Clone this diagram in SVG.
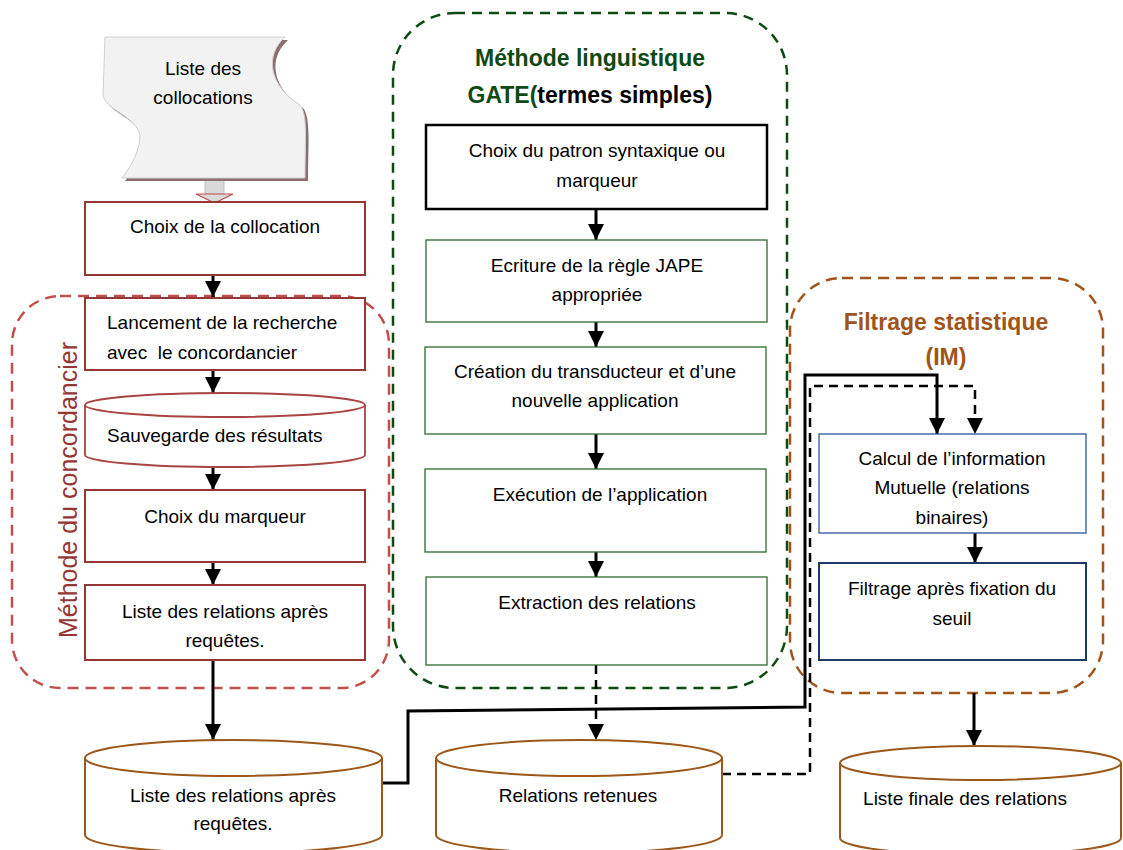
<svg xmlns="http://www.w3.org/2000/svg" width="1123" height="850" viewBox="0 0 1123 850">
<style>
text{font-family:"Liberation Sans",Arial,sans-serif;font-size:19px;fill:#000}
.c{text-anchor:middle}
.t{font-weight:bold;font-size:23px}
.red{fill:#fff;stroke:#953735;stroke-width:2}
.grn{fill:#fff;stroke:#2e6b2e;stroke-width:1.3}
.blk{fill:#fff;stroke:#000;stroke-width:2.5}
.cyl{fill:#fff;stroke:#9c5719;stroke-width:2}
.cylr{fill:#fff;stroke:#a84442;stroke-width:1.8}
.ln{fill:none;stroke:#000;stroke-width:3}
.dl{fill:none;stroke:#000;stroke-width:2.5;stroke-dasharray:9,6}
</style>
<defs>
<marker id="ah" markerUnits="userSpaceOnUse" markerWidth="16" markerHeight="16" viewBox="0 0 16 16" refX="16" refY="8" orient="auto">
<path d="M0,0 L16,8 L0,16 Z" fill="#000"/>
</marker>
</defs>

<g id="group-concordancier">
<rect x="12" y="296" width="377" height="392" rx="48" fill="none" stroke="#c0504d" stroke-width="2.5" stroke-dasharray="11,7"/>
<text class="c" transform="translate(77,490) rotate(-90)" style="font-size:25px;fill:#943634">Méthode du concordancier</text>
</g>
<g id="group-gate">
<rect x="393" y="13" width="394" height="675" rx="62" fill="none" stroke="#0f4a12" stroke-width="2.5" stroke-dasharray="10,7"/>
<text class="c t" x="590" y="66" style="fill:#0f4a12">Méthode linguistique</text>
<text class="c t" x="590" y="103"><tspan fill="#0f4a12">GATE(</tspan><tspan fill="#000">termes simples)</tspan></text>
</g>
<g id="group-filtrage">
<rect x="790" y="278" width="313" height="415" rx="52" fill="none" stroke="#a0541b" stroke-width="2.5" stroke-dasharray="11,7"/>
<text class="c t" x="946" y="330" style="fill:#a0541b">Filtrage statistique</text>
<text class="c t" x="946" y="365" style="fill:#a0541b">(IM)</text>
</g>

<g id="connectors">
<g id="block-arrow">
<rect x="205" y="178" width="19" height="16" fill="#d9d9d9" stroke="#bfbfbf" stroke-width="1"/>
<path d="M196,194 L233,194 L214.5,203 Z" fill="#d9d9d9" stroke="#c0504d" stroke-width="1.2"/>
</g>
<path class="ln" d="M213,275 V297" marker-end="url(#ah)"/>
<path class="ln" d="M213,370 V393" marker-end="url(#ah)"/>
<path class="ln" d="M213,467 V490" marker-end="url(#ah)"/>
<path class="ln" d="M213,562 V585" marker-end="url(#ah)"/>
<path class="ln" d="M213,660 V740" marker-end="url(#ah)"/>
<path class="ln" d="M596,209 V240" marker-end="url(#ah)"/>
<path class="ln" d="M596,322 V347" marker-end="url(#ah)"/>
<path class="ln" d="M596,434 V469" marker-end="url(#ah)"/>
<path class="ln" d="M596,552 V577" marker-end="url(#ah)"/>
<path class="dl" d="M596,665 V740" marker-end="url(#ah)"/>
<path class="ln" d="M382,783 H408 V711 L805,707 V375 H937 V434" marker-end="url(#ah)"/>
<path class="dl" d="M722,774 H810 V386 H975 V434" marker-end="url(#ah)"/>
<path class="ln" d="M975,533 V563" marker-end="url(#ah)"/>
<path class="ln" d="M974,693 V746" marker-end="url(#ah)"/>
</g>

<g id="n-tape">
<path d="M108,40 L288,40 C268,58 271,88 303,108 C311,118 308,143 308,181 L125,181 C135,168 143,153 143,138 C138,118 108,113 106,98 Z" fill="#8b6f6f"/>
<path d="M105,37 L285,37 C265,55 268,85 300,105 C308,115 305,140 305,178 L122,178 C132,165 140,150 140,135 C135,115 105,110 103,95 Z" fill="#f2f2f2" stroke="#d0d0d0" stroke-width="1"/>
<text class="c" x="203" y="75">Liste des</text>
<text class="c" x="203" y="104">collocations</text>
</g>
<g id="n-choix-collocation">
<rect class="red" x="85" y="202" width="280" height="73"/>
<text class="c" x="225" y="233">Choix de la collocation</text>
</g>
<g id="n-lancement">
<rect class="red" x="85" y="298" width="280" height="72"/>
<text x="107" y="329">Lancement de la recherche</text>
<text x="107" y="359" xml:space="preserve">avec  le concordancier</text>
</g>
<g id="n-sauvegarde">
<path class="cylr" d="M85,405 V455 A140,12 0 0 0 365,455 V405"/>
<ellipse class="cylr" cx="225" cy="405" rx="140" ry="12"/>
<text x="107" y="442">Sauvegarde des résultats</text>
</g>
<g id="n-choix-marqueur">
<rect class="red" x="85" y="490" width="280" height="72"/>
<text class="c" x="225" y="523">Choix du marqueur</text>
</g>
<g id="n-liste-requetes">
<rect class="red" x="85" y="585" width="280" height="75"/>
<text class="c" x="225" y="618">Liste des relations après</text>
<text class="c" x="225" y="647">requêtes.</text>
</g>

<g id="n-patron">
<rect class="blk" x="426" y="125" width="341" height="84"/>
<text class="c" x="597" y="157">Choix du patron syntaxique ou</text>
<text class="c" x="597" y="187">marqueur</text>
</g>
<g id="n-jape">
<rect class="grn" x="426" y="240" width="341" height="82"/>
<text class="c" x="597" y="272">Ecriture de la règle JAPE</text>
<text class="c" x="597" y="301">appropriée</text>
</g>
<g id="n-transducteur">
<rect class="grn" x="425" y="347" width="341" height="87"/>
<text class="c" x="595" y="378">Création du transducteur et d’une</text>
<text class="c" x="595" y="407">nouvelle application</text>
</g>
<g id="n-execution">
<rect class="grn" x="425" y="469" width="341" height="83"/>
<text class="c" x="600" y="501">Exécution de l’application</text>
</g>
<g id="n-extraction">
<rect class="grn" x="426" y="577" width="341" height="88"/>
<text class="c" x="597" y="609">Extraction des relations</text>
</g>

<g id="n-calcul">
<rect x="819" y="434" width="267" height="99" fill="#fff" stroke="#2f5597" stroke-width="1.3"/>
<text class="c" x="952" y="465">Calcul de l’information</text>
<text class="c" x="952" y="494">Mutuelle (relations</text>
<text class="c" x="952" y="524">binaires)</text>
</g>
<g id="n-seuil">
<rect x="819" y="563" width="267" height="97" fill="#fff" stroke="#1f3864" stroke-width="2"/>
<text class="c" x="952" y="595">Filtrage après fixation du</text>
<text class="c" x="952" y="625">seuil</text>
</g>

<g id="n-cyl-requetes">
<path class="cyl" d="M85,758 V835 A148.5,18 0 0 0 382,835 V758"/>
<ellipse class="cyl" cx="233.5" cy="758" rx="148.5" ry="18"/>
<text class="c" x="233" y="802">Liste des relations après</text>
<text class="c" x="233" y="830">requêtes.</text>
</g>
<g id="n-cyl-retenues">
<path class="cyl" d="M436,758 V835 A143,18 0 0 0 722,835 V758"/>
<ellipse class="cyl" cx="579" cy="758" rx="143" ry="18"/>
<text class="c" x="578" y="802">Relations retenues</text>
</g>
<g id="n-cyl-finale">
<path class="cyl" d="M840,763 V838 A140.5,17 0 0 0 1121,838 V763"/>
<ellipse class="cyl" cx="980.5" cy="763" rx="140.5" ry="17"/>
<text class="c" x="965" y="805">Liste finale des relations</text>
</g>
</svg>
